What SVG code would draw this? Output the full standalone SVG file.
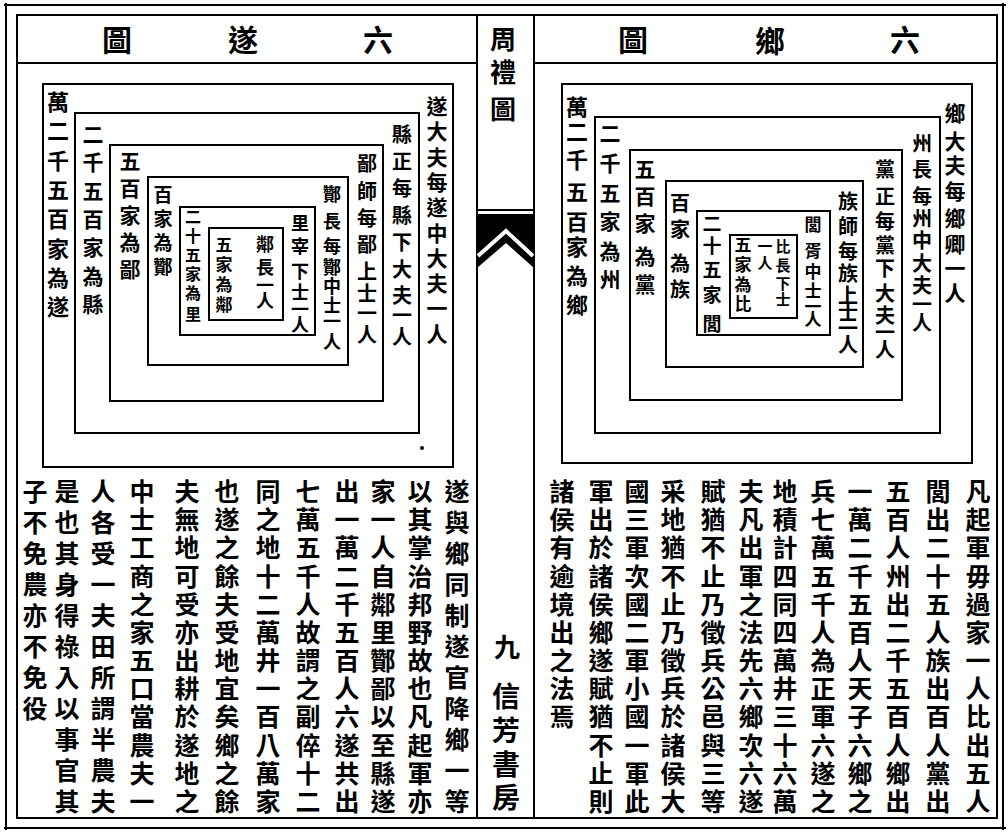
<svg xmlns="http://www.w3.org/2000/svg" width="1008" height="833" viewBox="0 0 1008 833">
<style>
.t{font-family:"Noto Sans CJK TC","Noto Sans CJK SC",sans-serif;font-weight:700;text-anchor:middle;dominant-baseline:central;fill:#000}
.ln{fill:none;stroke:#000;stroke-width:2}
.bx{fill:none;stroke:#000;stroke-width:2}
.body{font-size:25px}
</style>
<rect x="0" y="0" width="1008" height="833" fill="#fff"/>
<g id="frame">
<line class="ln" x1="4" y1="5" x2="1006" y2="5" stroke-width="6"/>
<line class="ln" x1="4" y1="828" x2="1006" y2="828" stroke-width="7"/>
<line class="ln" x1="6" y1="3" x2="6" y2="830" stroke-width="5"/>
<line class="ln" x1="1003" y1="3" x2="1003" y2="830" stroke-width="3"/>
<rect class="ln" x="17" y="15" width="980" height="803" stroke-width="1.8"/>
<line class="ln" x1="17" y1="63" x2="477" y2="63"/>
<line class="ln" x1="534" y1="63" x2="997" y2="63"/>
<line class="ln" x1="477" y1="15" x2="477" y2="818"/>
<line class="ln" x1="534" y1="15" x2="534" y2="818"/>
<line class="ln" x1="477" y1="210" x2="534" y2="210"/>
<polygon points="477,214 534,214 534,268 506,243 477,268" fill="#000"/>
<polyline points="478,256 506,231 533,256" fill="none" stroke="#fff" stroke-width="4"/>
</g>
<g id="headers">
<text class="t" font-size="30" x="117" y="38">圖</text>
<text class="t" font-size="30" x="243" y="38">遂</text>
<text class="t" font-size="30" x="378" y="38">六</text>
<text class="t" font-size="30" x="633" y="38">圖</text>
<text class="t" font-size="30" x="770" y="39">鄉</text>
<text class="t" font-size="30" x="905" y="38">六</text>
<text class="t" font-size="26" x="503 503 503" y="37 70 107">周禮圖</text>
<text class="t" font-size="26" x="507" y="645">九</text>
<text class="t" font-size="28" x="506 506 506 506" y="695 729 763 796">信芳書房</text>
</g>
<g id="sui-1">
<rect class="bx" x="43" y="84" width="410" height="383"/>
<text class="t" font-size="22" x="58 58 58 58 58 58 58 58" y="100 129 159 188 217 247 276 305">萬二千五百家為遂</text>
<text class="t" font-size="21" x="437 437 437 437 437 437 437 437 437 437" y="105 130 156 181 206 232 257 282 307 333">遂大夫每遂中大夫一人</text>
<circle cx="422" cy="448" r="2" fill="#000"/>
</g>
<g id="sui-2">
<rect class="bx" x="75" y="113" width="344" height="320"/>
<text class="t" font-size="21" x="93 93 93 93 93 93 93" y="133 161 190 218 246 275 303">二千五百家為縣</text>
<text class="t" font-size="20" x="402 402 402 402 402 402 402 402 402" y="133 160 187 214 241 268 294 314 335">縣正每縣下大夫一人</text>
</g>
<g id="sui-3">
<rect class="bx" x="110" y="145" width="273" height="256"/>
<text class="t" font-size="21" x="130 130 130 130 130" y="160 187 214 241 268">五百家為鄙</text>
<text class="t" font-size="20" x="367 367 367 367 367 367 367 367" y="162 190 217 243 270 292 312 333">鄙師每鄙上士一人</text>
</g>
<g id="sui-4">
<rect class="bx" x="148" y="177" width="200" height="188"/>
<text class="t" font-size="19" x="163 163 163 163" y="193 217 241 265">百家為酇</text>
<text class="t" font-size="18" x="332 332 332 332 332 332 332 332" y="193 220 245 266 285 304 320 340">酇長每酇中士一人</text>
</g>
<g id="sui-5">
<rect class="bx" x="180" y="207" width="135" height="128"/>
<text class="t" font-size="16" x="193 193 193 193 193 193" y="216 235 254 273 292 313">二十五家為里</text>
<text class="t" font-size="18" x="300 300 300 300 300 300" y="222 245 270 291 308 323">里宰下士一人</text>
</g>
<g id="sui-6">
<rect class="bx" x="209" y="228" width="74" height="92"/>
<text class="t" font-size="17" x="224 224 224 224" y="243 263 283 303">五家為鄰</text>
<text class="t" font-size="18" x="265 265 265 265" y="243 266 284 299">鄰長一人</text>
</g>
<g id="xiang-1">
<rect class="bx" x="562" y="84" width="410" height="379"/>
<text class="t" font-size="22" x="577 577 577 577 577 577 577 577" y="105 130 158 190 220 245 274 303">萬二千五百家為鄉</text>
<text class="t" font-size="21" x="955 955 955 955 955 955 955 955" y="112 140 164 190 217 243 267 292">鄉大夫每鄉卿一人</text>
</g>
<g id="xiang-2">
<rect class="bx" x="595" y="117" width="345" height="316"/>
<text class="t" font-size="21" x="610 610 610 610 610 610" y="132 162 192 220 250 278">二千五家為州</text>
<text class="t" font-size="20" x="922 922 922 922 922 922 922 922 922" y="142 168 195 217 239 262 284 303 321">州長每州中大夫一人</text>
</g>
<g id="xiang-3">
<rect class="bx" x="630" y="150" width="272" height="250"/>
<text class="t" font-size="21" x="645 645 645 645 645" y="168 195 222 255 283">五百家為黨</text>
<text class="t" font-size="20" x="885 885 885 885 885 885 885 885 885" y="168 195 220 244 267 292 314 331 348">黨正每黨下大夫一人</text>
</g>
<g id="xiang-4">
<rect class="bx" x="666" y="181" width="197" height="186"/>
<text class="t" font-size="20" x="680 680 680 680" y="202 228 262 288">百家為族</text>
<text class="t" font-size="20" x="848 848 848 848 848 848 848 848" y="200 225 250 272 294 311 327 343">族師每族上士一人</text>
</g>
<g id="xiang-5">
<rect class="bx" x="697" y="211" width="133" height="124"/>
<text class="t" font-size="19" x="712 712 712 712 712" y="222 244 268 293 322">二十五家閭</text>
<text class="t" font-size="17" x="813 813 813 813 813 813" y="223 249 270 289 305 318">閭胥中士一人</text>
</g>
<g id="xiang-6">
<rect class="bx" x="730" y="235" width="67" height="83"/>
<text class="t" font-size="17" x="743 743 743 743" y="243 263 283 302">五家為比</text>
<text class="t" font-size="15" x="783 783 783 783" y="245 264 282 298">比長下士</text>
<text class="t" font-size="15" x="765 765" y="245 262">一人</text>
</g>
<g id="text-left" class="body">
<text class="t body" x="457 457 457 457 457 457 457 457 457 457 457" y="490 521 552 583 614 645 676 707 738 769 800">遂與鄉同制遂官降鄉一等</text>
<text class="t body" x="420 420 420 420 420 420 420 420 420 420 420 420" y="490 518 546 575 603 631 659 687 715 744 772 800">以其掌治邦野故也凡起軍亦</text>
<text class="t body" x="383 383 383 383 383 383 383 383 383 383 383 383" y="490 518 546 575 603 631 659 687 715 744 772 800">家一人自鄰里酇鄙以至縣遂</text>
<text class="t body" x="347 347 347 347 347 347 347 347 347 347 347 347" y="490 518 546 575 603 631 659 687 715 744 772 800">出一萬二千五百人六遂共出</text>
<text class="t body" x="308 308 308 308 308 308 308 308 308 308 308 308" y="490 518 546 575 603 631 659 687 715 744 772 800">七萬五千人故謂之副倅十二</text>
<text class="t body" x="268 268 268 268 268 268 268 268 268 268 268 268" y="490 518 546 575 603 631 659 687 715 744 772 800">同之地十二萬井一百八萬家</text>
<text class="t body" x="227 227 227 227 227 227 227 227 227 227 227 227" y="490 518 546 575 603 631 659 687 715 744 772 800">也遂之餘夫受地宜矣鄉之餘</text>
<text class="t body" x="187 187 187 187 187 187 187 187 187 187 187 187" y="490 518 546 575 603 631 659 687 715 744 772 800">夫無地可受亦出耕於遂地之</text>
<text class="t body" x="142 142 142 142 142 142 142 142 142 142 142 142" y="490 518 546 575 603 631 659 687 715 744 772 800">中士工商之家五口當農夫一</text>
<text class="t body" x="103 103 103 103 103 103 103 103 103 103 103" y="490 521 552 583 614 645 676 707 738 769 800">人各受一夫田所謂半農夫</text>
<text class="t body" x="67 67 67 67 67 67 67 67 67 67 67" y="490 521 552 583 614 645 676 707 738 769 800">是也其身得祿入以事官其</text>
<text class="t body" x="35 35 35 35 35 35 35 35" y="490 521 552 583 614 645 676 707">子不免農亦不免役</text>
</g>
<g id="text-right" class="body">
<text class="t body" x="978 978 978 978 978 978 978 978 978 978 978 978" y="490 518 546 575 603 631 659 687 715 744 772 800">凡起軍毋過家一人比出五人</text>
<text class="t body" x="938 938 938 938 938 938 938 938 938 938 938 938" y="490 518 546 575 603 631 659 687 715 744 772 800">閭出二十五人族出百人黨出</text>
<text class="t body" x="898 898 898 898 898 898 898 898 898 898 898 898" y="490 518 546 575 603 631 659 687 715 744 772 800">五百人州出二千五百人鄉出</text>
<text class="t body" x="860 860 860 860 860 860 860 860 860 860 860 860" y="490 518 546 575 603 631 659 687 715 744 772 800">一萬二千五百人天子六鄉之</text>
<text class="t body" x="823 823 823 823 823 823 823 823 823 823 823 823" y="490 518 546 575 603 631 659 687 715 744 772 800">兵七萬五千人為正軍六遂之</text>
<text class="t body" x="785 785 785 785 785 785 785 785 785 785 785 785" y="490 518 546 575 603 631 659 687 715 744 772 800">地積計四同四萬井三十六萬</text>
<text class="t body" x="751 751 751 751 751 751 751 751 751 751 751 751" y="490 518 546 575 603 631 659 687 715 744 772 800">夫凡出軍之法先六鄉次六遂</text>
<text class="t body" x="713 713 713 713 713 713 713 713 713 713 713 713" y="490 518 546 575 603 631 659 687 715 744 772 800">賦猶不止乃徵兵公邑與三等</text>
<text class="t body" x="673 673 673 673 673 673 673 673 673 673 673 673" y="490 518 546 575 603 631 659 687 715 744 772 800">采地猶不止乃徵兵於諸侯大</text>
<text class="t body" x="637 637 637 637 637 637 637 637 637 637 637 637" y="490 518 546 575 603 631 659 687 715 744 772 800">國三軍次國二軍小國一軍此</text>
<text class="t body" x="601 601 601 601 601 601 601 601 601 601 601 601" y="490 518 546 575 603 631 659 687 715 744 772 800">軍出於諸侯鄉遂賦猶不止則</text>
<text class="t body" x="562 562 562 562 562 562 562 562 562" y="490 518 546 575 603 631 659 687 715">諸侯有逾境出之法焉</text>
</g>
</svg>
